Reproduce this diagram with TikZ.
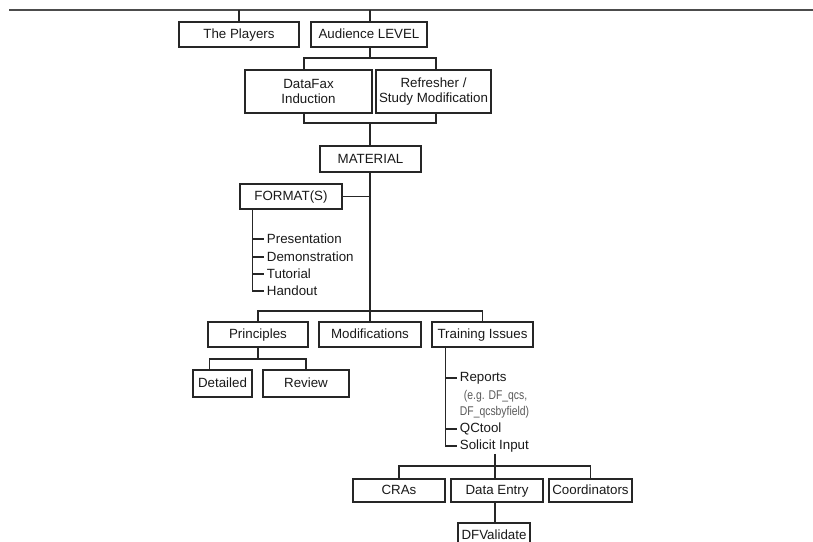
\documentclass[tikz,border=0pt]{standalone}
\usepackage{fontspec}
\setmainfont{Liberation Sans}
\newfontfamily\narrowfont[FakeStretch=0.82]{Liberation Sans}
\usepackage{xcolor}

% boxes and list entries, sizes in pixels of the sheet
\tikzset{
    tbox/.style={
        draw=black!85,
        line width=1pt,
        inner sep=1pt,
        align=center,
        fill=white,
        text=black!90,
        text height=7.2pt,
        text depth=0.8pt,
        font=\fontsize{10}{11.5}\selectfont
    },
    tbox2/.style={
        tbox,
        text height=,
        text depth=
    },
    link/.style={draw=black!85,line width=1pt},
    rule/.style={draw=black!70,line width=1.6pt},
    item/.style={
        anchor=west,
        inner xsep=2pt,
        inner ysep=1pt,
        text=black!90,
        font=\fontsize{10}{11.5}\selectfont
    },
    note/.style={
        anchor=west,
        inner xsep=2pt,
        inner ysep=0pt,
        text=black!65,
        font=\narrowfont\fontsize{9.5}{11}\selectfont
    }
}
\newcommand{\tbox}[6] {
    \node[tbox,minimum width={#4*0.75pt},minimum height={#5*0.75pt}] (#1) at ({#2}, {#3}) {#6};
}

\begin{document}
\begin{tikzpicture}[x=0.75pt,y=-0.75pt]
    \useasboundingbox (0,0) rectangle (813,542);
    \clip (0,0) rectangle (813,542);

    % rule along the top
    \coordinate (rl) at (9,10);
    \coordinate (rr) at (813,10);
    \draw[rule] (rl) -- (rr);

    \tbox{players}{239}{34.5}{120}{25}{The Players}
    \tbox{audience}{369}{34.5}{116}{25}{Audience LEVEL}
    \node[tbox2,minimum width=95.25pt,minimum height=32.25pt] (datafax) at (308.5,91.5) {DataFax\\Induction};
    \node[tbox2,minimum width=86.25pt,minimum height=32.25pt] (refresher) at (433.5,91.5) {Refresher /\\Study Modification};
    \tbox{material}{370.5}{159}{101}{26}{MATERIAL}
    \tbox{format}{291}{196.5}{102}{25}{FORMAT(S)}
    \tbox{princ}{258}{334.5}{100}{25}{Principles}
    \tbox{modif}{370}{334.5}{102}{25}{Modifications}
    \tbox{train}{482.5}{334.5}{101}{25}{Training Issues}
    \tbox{detailed}{222.5}{383.5}{59}{27}{Detailed}
    \tbox{review}{306}{383.5}{86}{27}{Review}
    \tbox{cras}{399}{490.5}{92}{23}{CRAs}
    \tbox{dentry}{497}{490.5}{92}{23}{Data Entry}
    \tbox{coord}{590.5}{490.5}{83}{23}{Coordinators}
    \tbox{dfval}{494}{535}{72}{24}{DFValidate}

    % formats
    \node[item] (pres) at (264,239) {Presentation};
    \node[item] (demo) at (264,257) {Demonstration};
    \node[item] (tut) at (264,274) {Tutorial};
    \node[item] (hand) at (264,291) {Handout};

    % training issues
    \node[item] (reports) at (457,378) {Reports};
    \node[note] (eg) at (461,396) {(e.g. DF\_qcs,};
    \node[note] (egb) at (457,412) {DF\_qcsbyfield)};
    \node[item] (qctool) at (457,429) {QCtool};
    \node[item] (solicit) at (457,446) {Solicit Input};

    % joints
    \coordinate (aj) at (370,58);
    \coordinate (mj) at (370,123);
    \coordinate (tj) at (370,311);
    \coordinate (pj) at (258,359);
    \coordinate (sj) at (495,466);

    \draw[link] (players.north) -- (players.north |- rl);
    \draw[link] (audience.north -| aj) -- (rl -| aj);
    \draw[link] (audience.south -| aj) -- (aj);
    \draw[link] ([xshift=-3.4pt]datafax.north) |- (aj) -| ([xshift=1.9pt]refresher.north);
    \draw[link] ([xshift=-3.4pt]datafax.south) |- (mj) -| ([xshift=1.9pt]refresher.south);
    \draw[link] (mj) -- (mj |- material.north);
    \draw[link] (material.south -| mj) -- (tj);
    \draw[link] (format.east) -- (format.east -| mj);
    \draw[link] (princ.north) |- (tj) -| (train.north);
    \draw[link] (tj) -- (modif.north);
    \draw[link] (princ.south) -- (pj);
    \draw[link] ([xshift=-10pt]detailed.north) |- (pj) -| (review.north);

    \draw[link] ([xshift=9.75pt]format.south west) |- (hand.west);
    \foreach \n in {pres,demo,tut}
        \draw[link] ([xshift=9.75pt]format.south west |- \n.west) -- (\n.west);

    \draw[link] ([xshift=10.5pt]train.south west) |- (solicit.west);
    \foreach \n in {reports,qctool}
        \draw[link] ([xshift=10.5pt]train.south west |- \n.west) -- (\n.west);

    \draw[link] (sj |- solicit.south) -- (sj |- dentry.north);
    \draw[link] (cras.north) |- (sj) -| (coord.north);
    \draw[link] (sj |- dentry.south) -- (sj |- dfval.north);
\end{tikzpicture}
\end{document}
